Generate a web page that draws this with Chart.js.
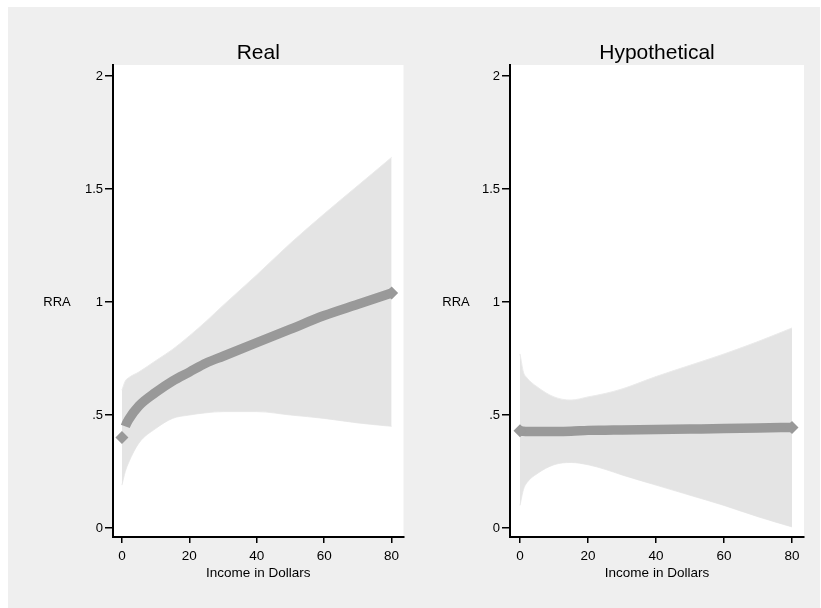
<!DOCTYPE html>
<html>
<head>
<meta charset="utf-8">
<script src="https://cdn.jsdelivr.net/npm/chart.js@4"></script>
<style>
  html, body { margin: 0; padding: 0; background: #fff; }
  .page { position: relative; width: 821px; height: 608px; overflow: hidden; }
  .backdrop { position: absolute; left: 8px; top: 7px; width: 812px; height: 601px; background: #efefef; }
  canvas { position: absolute; top: 0; }
  #real { left: 0; }
  #hypo { left: 410px; }
</style>
</head>
<body>
<div class="page">
  <div class="backdrop"></div>
  <canvas id="real" width="410" height="608"></canvas>
  <canvas id="hypo" width="411" height="608"></canvas>
</div>
<script>
// income grid shared by both panels
const income = [0, 1, 2, 5, 10, 15, 20, 25, 30, 40, 50, 60, 70, 80];

// Real
const rraReal   = [0.40, 0.45, 0.48, 0.54, 0.60, 0.65, 0.69, 0.73, 0.76, 0.82, 0.88, 0.94, 0.99, 1.04];
const upperReal = [0.61, 0.65, 0.665, 0.69, 0.74, 0.79, 0.85, 0.915, 0.985, 1.12, 1.26, 1.39, 1.515, 1.64];
const lowerReal = [0.19, 0.25, 0.29, 0.375, 0.44, 0.485, 0.50, 0.51, 0.515, 0.515, 0.50, 0.485, 0.465, 0.45];

// Hypothetical
const rraHypo   = [0.43, 0.428, 0.427, 0.427, 0.427, 0.428, 0.432, 0.433, 0.434, 0.436, 0.438, 0.44, 0.443, 0.445];
const upperHypo = [0.77, 0.69, 0.665, 0.625, 0.58, 0.566, 0.58, 0.595, 0.615, 0.67, 0.72, 0.77, 0.825, 0.885];
const lowerHypo = [0.10, 0.17, 0.20, 0.24, 0.28, 0.29, 0.28, 0.26, 0.235, 0.19, 0.145, 0.10, 0.05, 0.005];

const xTicks = [0, 20, 40, 60, 80];
const yTicks = [0, 0.5, 1, 1.5, 2];

const FONT = "'Liberation Sans', Arial, sans-serif";

const toPoints = (xs, ys) => xs.map((x, i) => ({ x: x, y: ys[i] }));

// white plot region plus panel title and the horizontal y label
const panelDecor = {
  id: "panelDecor",
  beforeDraw(chart, args, opts) {
    const { ctx, chartArea } = chart;
    ctx.save();
    ctx.fillStyle = "#fff";
    ctx.fillRect(chartArea.left, chartArea.top, chartArea.right - chartArea.left, chartArea.bottom - chartArea.top);
    ctx.restore();
  },
  afterDraw(chart, args, opts) {
    const { ctx, chartArea } = chart;
    ctx.save();
    ctx.fillStyle = "#000";
    ctx.textAlign = "center";
    ctx.textBaseline = "alphabetic";
    ctx.font = "21px " + FONT;
    ctx.fillText(opts.title, (chartArea.left + chartArea.right) / 2, 59);
    ctx.font = "13px " + FONT;
    ctx.fillText("RRA", opts.yLabelX, 306);
    ctx.restore();
  }
};

function makePanel(canvasId, title, line, upper, lower, opts) {
  const lastIdx = income.length - 1;
  return new Chart(document.getElementById(canvasId), {
    type: "line",
    data: {
      datasets: [
        {
          data: toPoints(income, line),
          borderColor: "#999",
          backgroundColor: "#999",
          borderWidth: 9.5,
          cubicInterpolationMode: "monotone",
          pointStyle: "rectRot",
          pointRadius: (c) => (c.dataIndex === 0 || c.dataIndex === lastIdx ? 6.5 : 0),
          pointBorderWidth: 0,
          fill: false,
          segment: opts.gapFirst ? {
            borderColor: (c) => (c.p0DataIndex === 0 ? "rgba(0,0,0,0)" : undefined)
          } : undefined
        },
        {
          data: toPoints(income, upper),
          borderColor: "#ebebeb",
          borderWidth: 1,
          backgroundColor: "#e4e4e4",
          cubicInterpolationMode: "monotone",
          pointRadius: 0,
          fill: "+1"
        },
        {
          data: toPoints(income, lower),
          borderColor: "#ebebeb",
          borderWidth: 1,
          cubicInterpolationMode: "monotone",
          pointRadius: 0,
          fill: false
        }
      ]
    },
    options: {
      responsive: false,
      animation: false,
      events: [],
      layout: { padding: { top: 65, right: opts.padRight, left: 0, bottom: 0 } },
      plugins: {
        legend: { display: false },
        tooltip: { enabled: false },
        panelDecor: { title: title, yLabelX: opts.yLabelX }
      },
      scales: {
        x: {
          type: "linear",
          min: opts.xMin,
          max: 83.53,
          afterBuildTicks: (s) => { s.ticks = xTicks.map((v) => ({ value: v })); },
          afterFit: (s) => { s.height = 71; },
          ticks: { color: "#000", font: { family: FONT, size: 13.5 }, padding: 5, maxRotation: 0 },
          grid: { drawOnChartArea: false, color: "#000", lineWidth: 1.5, tickLength: 6 },
          border: { color: "#000", width: 2 },
          title: {
            display: true,
            text: "Income in Dollars",
            color: "#000",
            font: { family: FONT, size: 13.5 },
            padding: { top: 0, bottom: 27 }
          }
        },
        y: {
          type: "linear",
          min: -0.0398,
          max: 2.0487,
          afterBuildTicks: (s) => { s.ticks = yTicks.map((v) => ({ value: v })); },
          afterFit: (s) => { s.width = opts.yWidth; },
          ticks: {
            color: "#000",
            font: { family: FONT, size: 13 },
            padding: 2,
            callback: (v) => (v === 0.5 ? ".5" : String(v))
          },
          grid: { drawOnChartArea: false, color: "#000", lineWidth: 1.5, tickLength: 8 },
          border: { color: "#000", width: 2 }
        }
      }
    },
    plugins: [panelDecor]
  });
}

makePanel("real", "Real", rraReal, upperReal, lowerReal,
  { yWidth: 113, padRight: 4, xMin: -2.647, yLabelX: 57, gapFirst: true });
makePanel("hypo", "Hypothetical", rraHypo, upperHypo, lowerHypo,
  { yWidth: 100, padRight: 17, xMin: -2.94, yLabelX: 46, gapFirst: false });
</script>
</body>
</html>
